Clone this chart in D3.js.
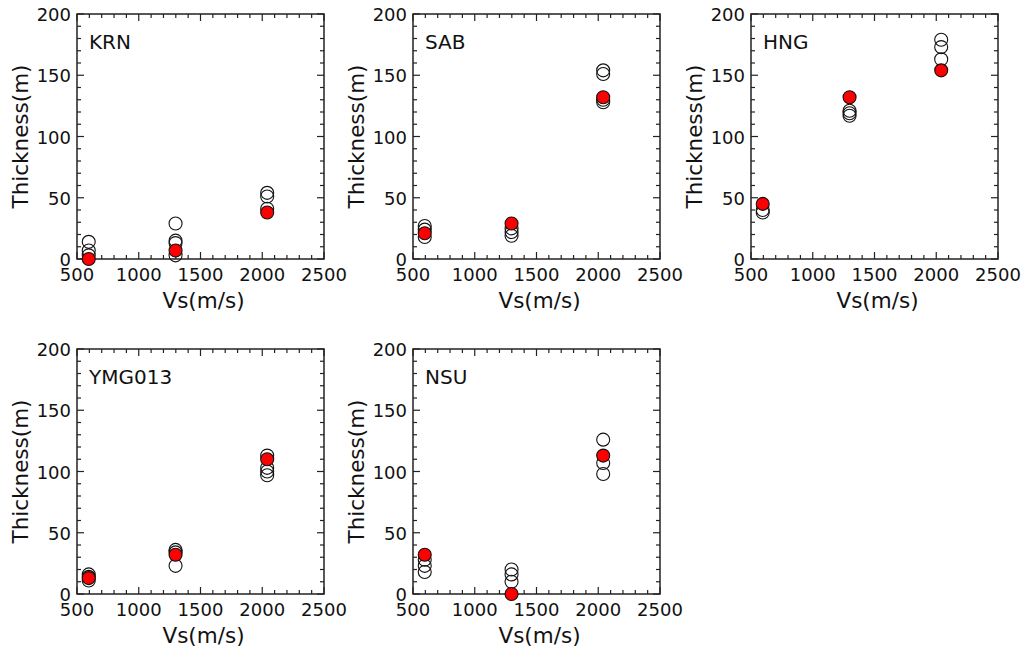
<!DOCTYPE html>
<html>
<head>
<meta charset="utf-8">
<script src="https://cdn.jsdelivr.net/npm/d3@7"></script>
<style>
  body { margin: 0; background: #fff; }
  text { font-family: "DejaVu Sans", Verdana, sans-serif; fill: #111; }
</style>
</head>
<body>
<svg id="chart" width="1025" height="654"></svg>
<script>
// sites and the three Vs groups
let sites = ["KRN", "SAB", "HNG", "YMG013", "NSU"];
let vsGroups = [595, 1298, 2040];
// open circles: thickness estimates per Vs group, per site
let openKRN = [[14, 7, 3], [29, 15, 13, 3], [54, 51, 41]];
let openSAB = [[27, 24, 18], [25, 22, 19], [154, 151, 130, 128]];
let openHNG = [[40, 38], [121, 119, 117], [179, 173, 163]];
let openYMG = [[16, 14, 11], [36, 34, 23], [113, 103, 100, 97]];
let openNSU = [[28, 23, 18], [20, 16, 10], [126, 107, 98]];
// red circles: final thickness per Vs group
let redKRN = [0, 7, 38];
let redSAB = [21, 29, 132];
let redHNG = [45, 132, 154];
let redYMG = [13, 32, 110];
let redNSU = [32, 0, 113];

let openData = [openKRN, openSAB, openHNG, openYMG, openNSU];
let redData = [redKRN, redSAB, redHNG, redYMG, redNSU];

let xTicks = [500, 1000, 1500, 2000, 2500];
let yTicks = [0, 50, 100, 150, 200];

let lefts = [77, 413, 751];
let tops = [14, 349];
let w = 247, h = 245;

let svg = d3.select("#chart");

sites.forEach((name, i) => {
  let col = i % 3, row = Math.floor(i / 3);
  let g = svg.append("g").attr("transform", `translate(${lefts[col]},${tops[row]})`);

  let x = d3.scaleLinear().domain([500, 2500]).range([0, w]);
  let y = d3.scaleLinear().domain([0, 200]).range([h, 0]);

  let minorX = d3.range(500, 2501, 100);
  let minorY = d3.range(0, 201, 10);

  // inward ticks on all four sides
  let ticks = g.append("g").attr("stroke", "#222").attr("stroke-width", 1.2);
  minorX.forEach(v => {
    let len = xTicks.includes(v) ? 7 : 4;
    ticks.append("line").attr("x1", x(v)).attr("x2", x(v)).attr("y1", h).attr("y2", h - len);
    ticks.append("line").attr("x1", x(v)).attr("x2", x(v)).attr("y1", 0).attr("y2", len);
  });
  minorY.forEach(v => {
    let len = yTicks.includes(v) ? 7 : 4;
    ticks.append("line").attr("y1", y(v)).attr("y2", y(v)).attr("x1", 0).attr("x2", len);
    ticks.append("line").attr("y1", y(v)).attr("y2", y(v)).attr("x1", w).attr("x2", w - len);
  });

  g.append("rect").attr("width", w).attr("height", h)
    .attr("fill", "none").attr("stroke", "#222").attr("stroke-width", 1.5);

  // tick labels
  g.selectAll(".xl").data(xTicks).join("text")
    .attr("x", d => x(d)).attr("y", h + 22)
    .attr("text-anchor", "middle").attr("font-size", 18).text(d => d);
  g.selectAll(".yl").data(yTicks).join("text")
    .attr("x", -6).attr("y", d => y(d) + 7)
    .attr("text-anchor", "end").attr("font-size", 18).text(d => d);

  // axis titles
  g.append("text").attr("x", w / 2 + 3).attr("y", h + 49)
    .attr("text-anchor", "middle").attr("font-size", 21.5).text("Vs(m/s)");
  g.append("text")
    .attr("transform", `translate(-49,${h / 2}) rotate(-90)`)
    .attr("text-anchor", "middle").attr("font-size", 21.5).text("Thickness(m)");

  g.append("text").attr("x", 12).attr("y", 35).attr("font-size", 20).text(name);

  // points
  let opens = [];
  openData[i].forEach((vals, k) => vals.forEach(v => opens.push({ vs: vsGroups[k], t: v })));
  g.selectAll(".op").data(opens).join("circle")
    .attr("cx", d => x(d.vs)).attr("cy", d => y(d.t)).attr("r", 6.5)
    .attr("fill", "none").attr("stroke", "#111").attr("stroke-width", 1.1);

  g.selectAll(".rd").data(redData[i]).join("circle")
    .attr("cx", (d, k) => x(vsGroups[k])).attr("cy", d => y(d)).attr("r", 6.5)
    .attr("fill", "#ff0000").attr("stroke", "#111").attr("stroke-width", 1.1);
});
</script>
</body>
</html>
